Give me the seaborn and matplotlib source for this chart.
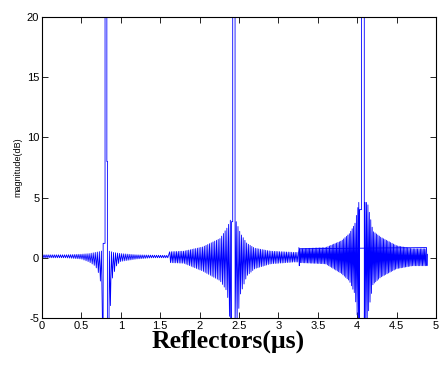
import numpy as np
import pandas as pd
import matplotlib
matplotlib.use("Agg")
import matplotlib.pyplot as plt
import seaborn as sns

# ---------------- data ----------------
# envelope knots (x in us, upper / lower level in dB) of the three reflector segments
seg_a_x     = [0.00, 0.30, 0.50, 0.60, 0.68, 0.72, 0.75, 0.770]
seg_a_up    = [0.25, 0.25, 0.30, 0.35, 0.45, 0.50, 0.55, 0.60]
seg_a_lo    = [0.00, 0.00, -0.10, -0.35, -0.70, -1.30, -2.20, -6.0]
seg_a2_x    = [0.855, 0.88, 0.90, 0.95, 1.00, 1.20, 1.40, 1.60]
seg_a2_up   = [0.55, 0.50, 0.45, 0.40, 0.35, 0.25, 0.22, 0.20]
seg_a2_lo   = [-6.0, -2.10, -1.50, -0.60, -0.30, -0.10, 0.00, 0.00]

seg_b_x     = [1.62, 1.80, 2.04, 2.26, 2.35, 2.395]
seg_b_up    = [0.50, 0.55, 0.90, 1.60, 2.50, 3.20]
seg_b_lo    = [-0.40, -0.45, -1.10, -1.90, -2.80, -6.0]
seg_b2_x    = [2.465, 2.52, 2.60, 2.70, 2.90, 3.20, 3.26]
seg_b2_up   = [3.00, 2.00, 1.20, 0.80, 0.55, 0.45, 0.45]
seg_b2_lo   = [-6.0, -3.00, -1.50, -0.90, -0.50, -0.35, -0.35]

seg_c_x     = [3.27, 3.60, 3.80, 3.90, 3.97, 4.02]
seg_c_up    = [0.75, 0.85, 1.40, 2.00, 2.80, 4.60]
seg_c_lo    = [-0.40, -0.50, -1.30, -1.90, -3.00, -6.0]
seg_c2_x    = [4.10, 4.13, 4.20, 4.30, 4.50, 4.70, 4.88]
seg_c2_up   = [4.60, 4.60, 2.20, 1.70, 1.00, 0.75, 0.75]
seg_c2_lo   = [-6.0, -5.00, -2.20, -1.60, -0.90, -0.66, -0.66]

# main lobes (vertices)
lobe_a_x = [0.770, 0.776, 0.776, 0.800, 0.800, 0.823, 0.823, 0.830, 0.830, 0.850, 0.855]
lobe_a_y = [-6.0, -6.0, 1.2, 1.2, 25.0, 25.0, 8.0, 8.0, -6.0, -6.0, 0.5]
lobe_b_x = [2.395, 2.405, 2.405, 2.420, 2.420, 2.450, 2.450, 2.465]
lobe_b_y = [-6.0, -6.0, 3.0, 3.0, 25.0, 25.0, -6.0, 3.0]
lobe_c_x = [4.020, 4.030, 4.030, 4.055, 4.055, 4.090, 4.090, 4.100]
lobe_c_y = [4.6, -6.0, 4.0, 4.0, 25.0, 25.0, -6.0, 4.6]

# small glitches at segment joins
glitch_x = [3.26, 3.265, 3.27, 4.88, 4.885, 4.89]
glitch_y = [0.85, -0.66, 0.75, 0.85, -0.66, 0.30]

x_ticks = [0, 0.5, 1, 1.5, 2, 2.5, 3, 3.5, 4, 4.5, 5]
y_ticks = [-5, 0, 5, 10, 15, 20]


def zigzag(xk, up, lo, step):
    xs = np.arange(xk[0], xk[-1] + 1e-9, step)
    u = np.interp(xs, xk, up)
    l = np.interp(xs, xk, lo)
    ys = np.where(np.arange(len(xs)) % 2 == 0, u, l)
    return xs, ys


sns.set_style("ticks")
plt.rcParams["font.family"] = ["Liberation Sans", "DejaVu Sans"]
plt.rcParams["xtick.direction"] = "in"
plt.rcParams["ytick.direction"] = "in"
plt.rcParams["text.color"] = "black"
plt.rcParams["axes.labelcolor"] = "black"

fig = plt.figure(figsize=(4.4, 3.65), dpi=100)
ax = fig.add_axes([42 / 440, 47 / 365, 394 / 440, 301 / 365])

pieces = [
    zigzag(seg_a_x, seg_a_up, seg_a_lo, 0.013),
    (np.array(lobe_a_x), np.array(lobe_a_y)),
    zigzag(seg_a2_x, seg_a2_up, seg_a2_lo, 0.013),
    zigzag(seg_b_x, seg_b_up, seg_b_lo, 0.011),
    (np.array(lobe_b_x), np.array(lobe_b_y)),
    zigzag(seg_b2_x, seg_b2_up, seg_b2_lo, 0.011),
    zigzag(seg_c_x, seg_c_up, seg_c_lo, 0.009),
    (np.array(lobe_c_x), np.array(lobe_c_y)),
    zigzag(seg_c2_x, seg_c2_up, seg_c2_lo, 0.009),
]
xs = np.concatenate([p[0] for p in pieces])
ys = np.concatenate([p[1] for p in pieces])
df = pd.DataFrame({"x": xs, "y": ys})
sns.lineplot(data=df, x="x", y="y", estimator=None, sort=False,
             color="#0000ff", lw=0.6, ax=ax)
sns.lineplot(x=glitch_x, y=glitch_y, estimator=None, sort=False,
             color="#0000ff", lw=0.6, ax=ax)

ax.set_xlim(0, 5)
ax.set_ylim(-5, 20)
ax.set_xticks(x_ticks)
ax.set_xticklabels([f"{t:g}" for t in x_ticks])
ax.set_yticks(y_ticks)
ax.set_yticklabels([f"{t:g}" for t in y_ticks])
ax.tick_params(axis="both", which="both", direction="in", length=4, width=0.6,
               top=True, right=True, labelsize=8, pad=2, colors="black")
for s in ax.spines.values():
    s.set_visible(True)
    s.set_linewidth(0.8)
    s.set_color("black")

ax.set_ylabel("magnitude(dB)", fontsize=6.5, labelpad=3, color="black")
ax.set_xlabel("Reflectors(\u03bcs)", fontsize=18.5, fontweight="bold",
              family=["Liberation Serif", "DejaVu Serif"], labelpad=1,
              color="black")
ax.xaxis.set_label_coords(0.472, -0.04, transform=ax.transAxes)
ax.xaxis.label.set_va("top")

fig.savefig("out.png", dpi=100, facecolor="white")
